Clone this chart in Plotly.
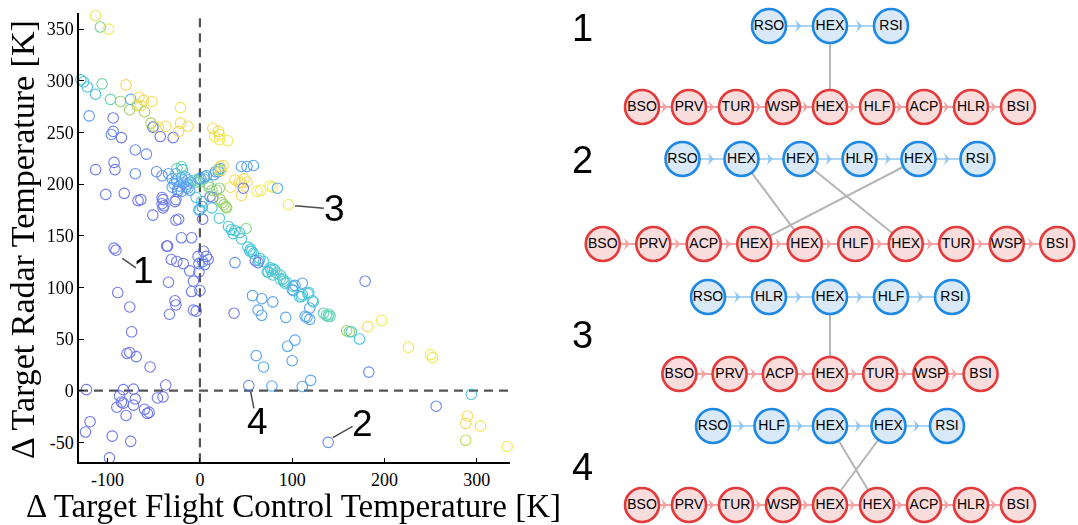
import plotly.graph_objects as go

# ---------------- scatter data ----------------
flight_ctrl_dT = [
    -113, -108, -99, -129, -126, -122, -113, -106, -80, -97, -86, -76, -75, -66, -61, -68, -64, -60, -52, -21,
    -53, -50, -51, -45, -43, -37, -29, -23, -21, -13, -120, -94, -94, -96, -85, -70, -58, -113, -93, -92,
    -70, -47, -41, -102, -82, -67, -64, -51, -41, -40, -41, -39, -40, -27, -26, -23, -20, -9, 3, -1,
    11, 2, -36, -93, -91,
    -30, -28, -25, -22, -20, -18, -24, -30, -15, -26, -20, -13, -25, -20, -19, -34, -13, -10, -16, -13,
    -11, -24, -26, -4, 2.5, 14, 13, 0, 4, 9, 10, 13, 18, 21, 22, 24, 26, 28, 29, 1,
    5, 15, 20, 22, 17, 22, 25, 23, 20, 45, 51, 58, 38, 43, 48, 45, 51, 33, 45, 47,
    62, 66, 76, 79, 84, -1, 7, -4, -5, 14, 16, 21, 21, 30, 20, 21, 0,
    50, 31, 34, 36, 38, 43, 45, 52, 55, 56, 65, 60, 54, 58, 64, 69, 74, 79, 81, 83,
    87, 87, 91, 94, 101, 108, 111, 117, 123, 119, 134, 137, 139, 159, 162, 164, 173, 140, 141, 73,
    76, 77, 79, 90, 92, 100, 110, 118, 122,
    103, 111, 63, 38, 57, 67, 79, 63, 67, 93, 61, 69, 95, 103, 100, 53, 78, 111, 120, 139,
    101, 114, 116, 119, 37, 179, 183, 182, 197, 226, 250, 252, 294, 256, 290, 288, 304, 288, 333, 96,
    -31, -25, -18, -11, -2, 3, -1, 7, 5, 9, 4, -1, -7, -9, 0, -7, -4, -34, -27, -26,
    -33, -89, -76, -74, -79, -76, -69, -54, -123, -83, -72, -37, -46, -40, -87, -85, -83, -90, -70, -72,
    -80, -60, -57, -55, -119, -124, -95, -75, -98, -35,
]
radar_dT = [
    363, 352, 350, 301, 299, 294, 287, 297, 296, 282, 280, 272, 282, 284, 281, 276, 276, 270, 280, 274,
    259, 256, 255, 255, 246, 256, 245, 251, 259, 256, 266, 264, 251, 248, 245, 233, 229, 214, 221, 214,
    210, 212, 208, 190, 191, 184, 185, 170, 187, 185, 181, 179, 177, 183, 165, 166, 148, 148, 166, 175,
    188, 183, 140, 138, 136,
    205, 200, 203, 198, 206, 201, 195, 197, 197, 210, 193, 200, 215, 217, 214, 210, 204, 202, 207, 196,
    194, 193, 185, 187, 178, 187, 177, 202, 205, 200, 197, 194, 194, 196, 185, 182, 180, 178, 177, 205,
    207, 209, 212, 215, 212, 217, 218, 213, 214, 217, 217, 218, 204, 202, 205, 201, 202, 197, 189, 196,
    193, 194, 198, 197, 196, 205, 208, 202, 204, 254, 246, 248, 243, 242, 251, 167, 175,
    157, 159, 156, 152, 155, 153, 147, 139, 137, 135, 128, 126, 135, 133, 126, 125, 115, 118, 117, 114,
    112, 108, 106, 105, 101, 91, 93, 94, 86, 80, 75, 73, 72, 58, 57, 57, 50, 74, 72, 115,
    119, 117, 112, 108, 104, 98, 91, 95, 87,
    102, 104, 124, 124, 92, 89, 86, 78, 73, 71, 34, 23, 43, 49, 29, 5, 4.5, 4, 10, -50,
    97, 72, 71, 69, 75, 106, 18, 62, 68, 42, 35, 32, -3.5, -15, -24.5, -31.6, -34, -48, -54, 180,
    127, 125, 123, 116, 130, 125, 123, 130, 122, 127, 135, 115, 106, 96, 97, 78, 77, 105, 87, 83,
    74, 95, 81, 57, 36, 37, 33, 23, 1, 1, 1.5, 5.5, -7, -6, -5, -11, -12, -16, -8, -14,
    -24, -18, -22, -21, -30, -40, -44, -49, -65, 140,
]
color_value = [
    0.86, 0.62, 0.88, 0.42, 0.42, 0.42, 0.40, 0.60, 0.94, 0.55, 0.70, 0.72, 0.35, 0.93, 0.93, 0.80, 0.90, 0.75, 0.93, 0.88,
    0.75, 0.75, 0.12, 0.92, 0.12, 0.92, 0.12, 0.93, 0.93, 0.93, 0.25, 0.12, 0.20, 0.20, 0.12, 0.20, 0.20, 0.15, 0.15, 0.15,
    0.20, 0.22, 0.22, 0.15, 0.12, 0.12, 0.12, 0.12, 0.15, 0.15, 0.15, 0.15, 0.15, 0.12, 0.12, 0.12, 0.15, 0.15, 0.12, 0.30,
    0.10, 0.42, 0.12, 0.12, 0.12,
    0.30, 0.30, 0.30, 0.30, 0.30, 0.30, 0.30, 0.30, 0.28, 0.30, 0.25, 0.30, 0.60, 0.55, 0.45, 0.30, 0.30, 0.20, 0.35, 0.30,
    0.28, 0.20, 0.20, 0.42, 0.25, 0.10, 0.45, 0.65, 0.62, 0.65, 0.65, 0.68, 0.70, 0.68, 0.72, 0.72, 0.70, 0.72, 0.70, 0.30,
    0.30, 0.30, 0.30, 0.30, 0.30, 0.93, 0.93, 0.93, 0.65, 0.30, 0.30, 0.30, 0.93, 0.93, 0.93, 0.93, 0.93, 0.93, 0.93, 0.12,
    0.88, 0.88, 0.88, 0.88, 0.30, 0.30, 0.30, 0.55, 0.55, 0.93, 0.88, 0.88, 0.88, 0.88, 0.93, 0.45, 0.42,
    0.65, 0.45, 0.45, 0.45, 0.45, 0.45, 0.45, 0.45, 0.45, 0.45, 0.45, 0.15, 0.45, 0.45, 0.45, 0.45, 0.47, 0.47, 0.47, 0.50,
    0.50, 0.50, 0.50, 0.50, 0.45, 0.45, 0.45, 0.45, 0.50, 0.30, 0.55, 0.55, 0.55, 0.72, 0.70, 0.45, 0.45, 0.55, 0.55, 0.45,
    0.47, 0.45, 0.45, 0.45, 0.45, 0.45, 0.45, 0.45, 0.45,
    0.30, 0.30, 0.15, 0.25, 0.30, 0.30, 0.30, 0.30, 0.30, 0.30, 0.30, 0.30, 0.30, 0.30, 0.30, 0.20, 0.30, 0.30, 0.30, 0.20,
    0.30, 0.30, 0.30, 0.30, 0.15, 0.20, 0.20, 0.93, 0.88, 0.88, 0.88, 0.88, 0.45, 0.20, 0.93, 0.93, 0.90, 0.80, 0.88, 0.88,
    0.12, 0.12, 0.12, 0.15, 0.15, 0.30, 0.15, 0.15, 0.15, 0.15, 0.15, 0.15, 0.15, 0.15, 0.15, 0.15, 0.15, 0.12, 0.12, 0.12,
    0.12, 0.12, 0.12, 0.12, 0.12, 0.12, 0.12, 0.12, 0.12, 0.12, 0.12, 0.12, 0.12, 0.12, 0.12, 0.12, 0.12, 0.12, 0.12, 0.12,
    0.12, 0.12, 0.12, 0.12, 0.12, 0.12, 0.12, 0.12, 0.12, 0.12,
]

x_ticks = [-100, 0, 100, 200, 300]
x_tick_labels = ["-100", "0", "100", "200", "300"]
y_ticks = [-50, 0, 50, 100, 150, 200, 250, 300, 350]
y_tick_labels = ["-50", "0", "50", "100", "150", "200", "250", "300", "350"]

# highlighted cases
case_labels = ["1", "2", "3", "4"]

# ---------------- network data ----------------
net_top = [
    ["RSO", "HEX", "RSI"],
    ["RSO", "HEX", "HEX", "HLR", "HEX", "RSI"],
    ["RSO", "HLR", "HEX", "HLF", "RSI"],
    ["RSO", "HLF", "HEX", "HEX", "RSI"],
]
net_bottom = [
    ["BSO", "PRV", "TUR", "WSP", "HEX", "HLF", "ACP", "HLR", "BSI"],
    ["BSO", "PRV", "ACP", "HEX", "HEX", "HLF", "HEX", "TUR", "WSP", "BSI"],
    ["BSO", "PRV", "ACP", "HEX", "TUR", "WSP", "BSI"],
    ["BSO", "PRV", "TUR", "WSP", "HEX", "HEX", "ACP", "HLR", "BSI"],
]
net_links = [
    [(1, 4)],
    [(1, 4), (2, 6), (4, 3)],
    [(2, 3)],
    [(2, 5), (3, 4)],
]

# ---------------- layout helpers (pixel geometry of the right panel) ----------------
CX = 830
row_geom = [  # (top y, top spacing, bottom y, bottom spacing, label y)
    (26, 61, 107, 47, 27.5),
    (159, 59, 244, 50.5, 159.5),
    (297, 61, 374, 50.2, 335),
    (426, 58.5, 505, 47, 466.5),
]

BLUE_EDGE = "#1e88e5"
BLUE_FILL = "#d9e9f8"
BLUE_LINK = "#8fc6f2"
RED_EDGE = "#e33b3b"
RED_FILL = "#f9dcdc"
RED_LINK = "#f3a3a3"

colorscale = [
    [0.0, "#4a3bdc"], [0.15, "#4a5cec"], [0.30, "#2c8ef0"], [0.45, "#1cb8d2"],
    [0.55, "#3cc6a4"], [0.65, "#66c866"], [0.78, "#aac82c"], [0.88, "#ece526"], [1.0, "#f6b142"],
]

fig = go.Figure()

fig.add_trace(go.Scatter(
    x=flight_ctrl_dT, y=radar_dT, mode="markers",
    marker=dict(symbol="circle-open", size=10.5, color=color_value, colorscale=colorscale,
                cmin=0, cmax=1, line=dict(width=1.1)),
    opacity=0.8, hoverinfo="skip", cliponaxis=False,
))

serif = "Liberation Serif"
sans = "Liberation Sans"

# leader lines and case labels on the scatter
leader_end = [(-69.3, 118.8), (165.4, -34.5), (134.3, 176.5), (58.5, -17)]
leader_start = [(-84, 128), (144, -45.5), (103, 179), (55, -1)]
label_pos = [(-61, 116.5), (176.6, -32), (145.7, 176.4), (62.8, -29.8)]

shapes = []
for (x0, y0), (x1, y1) in zip(leader_start, leader_end):
    shapes.append(dict(type="line", xref="x", yref="y", x0=x0, y0=y0, x1=x1, y1=y1,
                       line=dict(color="#4d4d4d", width=1.5)))
shapes.append(dict(type="line", xref="x", yref="y", x0=0, x1=0, y0=-69.3, y1=365.6,
                   line=dict(color="#555555", width=2.2, dash="9px,6px"), layer="below"))
shapes.append(dict(type="line", xref="x", yref="y", x0=-131, x1=336, y0=0, y1=0,
                   line=dict(color="#555555", width=2.2, dash="9px,6px"), layer="below"))

annotations = []
for lab, (lx, ly) in zip(case_labels, label_pos):
    annotations.append(dict(x=lx, y=ly, xref="x", yref="y", text=lab, showarrow=False,
                            xanchor="center", yanchor="middle",
                            font=dict(family=sans, size=37, color="black")))

annotations.append(dict(x=293 / 1078, y=1 - 506 / 525, xref="paper", yref="paper",
                        xanchor="center", yanchor="middle",
                        text="Δ Target Flight Control Temperature [K]", showarrow=False,
                        font=dict(family=serif, size=33, color="black")))
annotations.append(dict(x=23 / 1078, y=1 - 240 / 525, xref="paper", yref="paper",
                        xanchor="center", yanchor="middle",
                        text="Δ Target Radar Temperature [K]", showarrow=False, textangle=-90,
                        font=dict(family=serif, size=34, color="black")))

# ---------------- networks ----------------
for k in range(4):
    ty, tsp, by, bsp, laby = row_geom[k]
    top = net_top[k]
    bot = net_bottom[k]
    tx = [CX + (i - (len(top) - 1) / 2) * tsp for i in range(len(top))]
    bx = [CX + (i - (len(bot) - 1) / 2) * bsp for i in range(len(bot))]

    # cross links
    lx, lyy = [], []
    for a, b in net_links[k]:
        lx += [tx[a], bx[b], None]
        lyy += [ty, by, None]
    fig.add_trace(go.Scatter(x=lx, y=lyy, xaxis="x2", yaxis="y2", mode="lines",
                             line=dict(color="#b5b5b5", width=2), hoverinfo="skip", cliponaxis=False))

    for xs, yv, lc, ec, fc, names, lw in [(tx, ty, BLUE_LINK, BLUE_EDGE, BLUE_FILL, top, 1.6),
                                          (bx, by, RED_LINK, RED_EDGE, RED_FILL, bot, 2.2)]:
        ex, ey, mx, my = [], [], [], []
        for i in range(len(xs) - 1):
            ex += [xs[i], xs[i + 1], None]
            ey += [yv, yv, None]
            mx.append((xs[i] + xs[i + 1]) / 2 + 2)
            my.append(yv)
        fig.add_trace(go.Scatter(x=ex, y=ey, xaxis="x2", yaxis="y2", mode="lines",
                                 line=dict(color=lc, width=lw), hoverinfo="skip", cliponaxis=False))
        fig.add_trace(go.Scatter(x=mx, y=my, xaxis="x2", yaxis="y2", mode="markers",
                                 marker=dict(symbol="arrow-wide", angle=90, size=11, color=lc,
                                             line=dict(width=0)),
                                 hoverinfo="skip", cliponaxis=False))
        fig.add_trace(go.Scatter(x=xs, y=[yv] * len(xs), xaxis="x2", yaxis="y2",
                                 mode="markers+text", text=names, textposition="middle center",
                                 textfont=dict(family=sans, size=14, color="black"),
                                 marker=dict(size=34, color=fc, line=dict(color=ec, width=2.6)),
                                 hoverinfo="skip", cliponaxis=False))

    annotations.append(dict(x=582.5, y=laby, xref="x2", yref="y2", text=str(k + 1), showarrow=False,
                            xanchor="center", yanchor="middle",
                            font=dict(family=sans, size=38, color="black")))

fig.update_layout(
    width=1078, height=525,
    margin=dict(l=0, r=0, t=0, b=0),
    paper_bgcolor="white", plot_bgcolor="rgba(0,0,0,0)",
    showlegend=False,
    xaxis=dict(domain=[79 / 1078, 510 / 1078], range=[-131, 336], showline=True, linecolor="black",
               linewidth=1.5, ticks="inside", ticklen=5, tickwidth=1.2, tickcolor="black",
               tickvals=x_ticks, ticktext=x_tick_labels, showgrid=False, zeroline=False,
               tickfont=dict(family=serif, size=18, color="black"), anchor="y"),
    yaxis=dict(domain=[62.7 / 525, 512 / 525], range=[-69.3, 365.6], showline=True, linecolor="black",
               linewidth=1.5, ticks="inside", ticklen=5, tickwidth=1.2, tickcolor="black",
               tickvals=y_ticks, ticktext=y_tick_labels, showgrid=False, zeroline=False,
               tickfont=dict(family=serif, size=18, color="black"), anchor="x"),
    xaxis2=dict(domain=[0.5, 1], range=[539, 1078], visible=False, anchor="y2"),
    yaxis2=dict(domain=[0, 1], range=[525, 0], visible=False, anchor="x2"),
    shapes=shapes,
    annotations=annotations,
)

fig.write_html("out.html")
